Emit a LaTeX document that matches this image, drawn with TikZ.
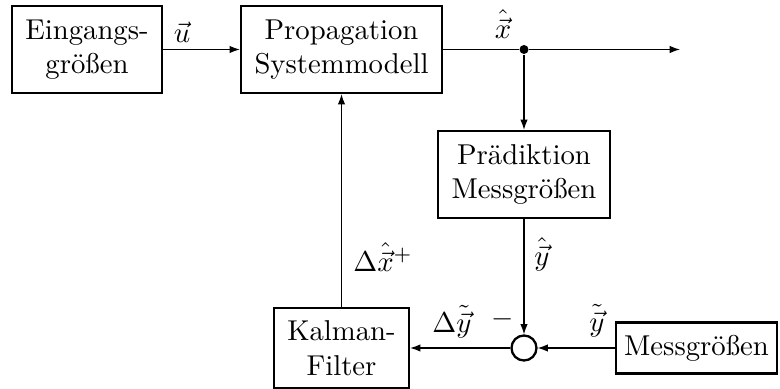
\documentclass[tikz,border=0pt]{standalone}
\usetikzlibrary{arrows.meta}
\begin{document}
\begin{tikzpicture}[x=0.3484pt,y=-0.3484pt,
  block/.style 2 args={draw,line width=0.8pt,align=center,inner sep=0pt,
    minimum width=#1*0.3484pt,minimum height=#2*0.3484pt},
  conn/.style={line width=0.4pt},
  arr/.style={conn,-{Latex[length=3.6pt,width=2.6pt]}},
  lbl/.style={inner sep=0pt}]
\useasboundingbox (0,0) rectangle (780,389);

% blocks
\node[block={150}{87}] (ein)   at (87,49.5)    {Eingangs-\\größen};
\node[block={201}{87}] (prop)  at (341.5,49.5) {Propagation\\Systemmodell};
\node[block={172}{87}] (praed) at (524,174.5)  {Prädiktion\\Messgrößen};
\node[block={135}{80}] (kal)   at (341.5,348)  {Kalman-\\Filter};
\node[block={161}{51}] (mess)  at (696.5,348)  {Messgrößen};

% summing junction and branch point
\node[draw,circle,line width=0.8pt,minimum size=25*0.3484pt,inner sep=0pt] (sum) at (524,348) {};
\node[circle,fill,inner sep=0pt,minimum size=9*0.3484pt] (dot) at (524,49.5) {};
\coordinate (out) at (680,49.5);

% connectors
\draw[arr] (ein) -- (prop);
\draw[conn] (prop.east) -- (dot);
\draw[arr] (dot) -- (out);
\draw[arr] (dot) -- (praed.north);
\draw[arr] (praed.south) -- (sum.north);
\draw[arr] (mess.west) -- (sum.east);
\draw[arr] (sum.west) -- (kal.east);
\draw[arr] (kal.north) -- (kal.north |- prop.south);

% signal labels
\node[lbl] (lu)  at (182,32)  {$\vec{u}$};
\node[lbl] (lx)  at (503,24)  {$\hat{\vec{x}}$};
\node[lbl] (ldx) at (383,257) {$\Delta\hat{\vec{x}}{}^{+}$};
\node[lbl] (ly)  at (542,254) {$\hat{\vec{y}}$};
\node[lbl] (ldy) at (452,322) {$\Delta\tilde{\vec{y}}$};
\node[lbl] (lm)  at (503,319) {$-$};
\node[lbl] (lyt) at (597,321) {$\tilde{\vec{y}}$};
\end{tikzpicture}
\end{document}
